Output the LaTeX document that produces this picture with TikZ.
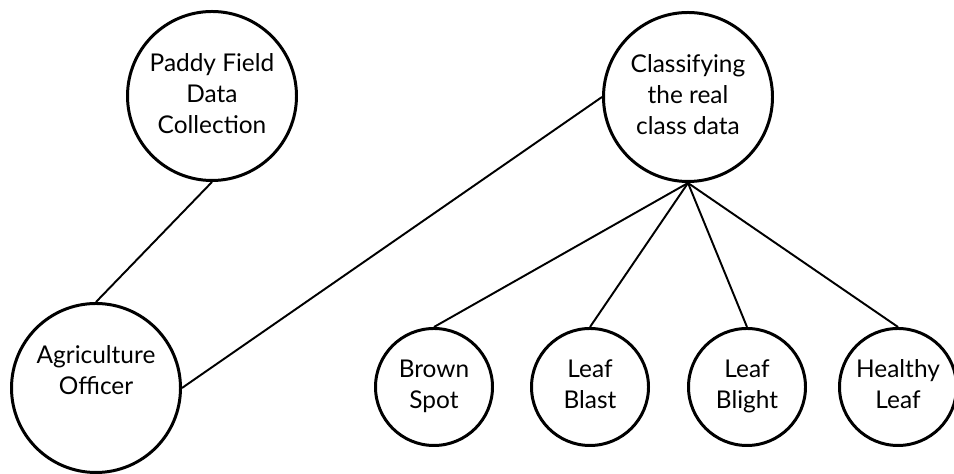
\documentclass[tikz,border=0pt]{standalone}
\usepackage{fontspec}
\setmainfont{Lato}

\begin{document}
\begin{tikzpicture}[
  bigstate/.style={circle, draw, line width=1.7pt, minimum size=3.38cm, inner sep=0pt, align=center, font=\fontsize{13.9}{17.6}\selectfont},
  leafstate/.style={circle, draw, line width=1.7pt, minimum size=2.34cm, inner sep=0pt, align=center, font=\fontsize{13.9}{17.6}\selectfont},
  link/.style={line width=1.1pt}
]

\useasboundingbox ( 0, 0 ) rectangle ( 19.08, 9.48 );

% Top row
\node [bigstate] (paddy) at ( 4.24, 7.56 ) {Paddy Field\strut\\Data\strut\\Collection\strut};
\node [bigstate] (classify) at ( 13.76, 7.54 ) {Classifying\strut\\the real\strut\\class data\strut};

% Officer
\node [bigstate] (officer) at ( 1.92, 1.72 ) {Agriculture\strut\\Officer\strut\\\strut};

% Disease classes
\node [leafstate] (brown) at ( 8.68, 1.74 ) {Brown\strut\\Spot\strut};
\node [leafstate] (blast) at ( 11.80, 1.74 ) {Leaf\strut\\Blast\strut};
\node [leafstate] (blight) at ( 14.94, 1.74 ) {Leaf\strut\\Blight\strut};
\node [leafstate] (healthy) at ( 17.96, 1.74 ) {Healthy\strut\\Leaf\strut};

% Links
\draw [link] (paddy.south) -- (officer.north);
\draw [link] (classify.west) -- (officer.east);
\draw [link] (classify.south) -- (brown.north);
\draw [link] (classify.south) -- (blast.north);
\draw [link] (classify.south) -- (blight.north);
\draw [link] (classify.south) -- (healthy.north);

\end{tikzpicture}
\end{document}
